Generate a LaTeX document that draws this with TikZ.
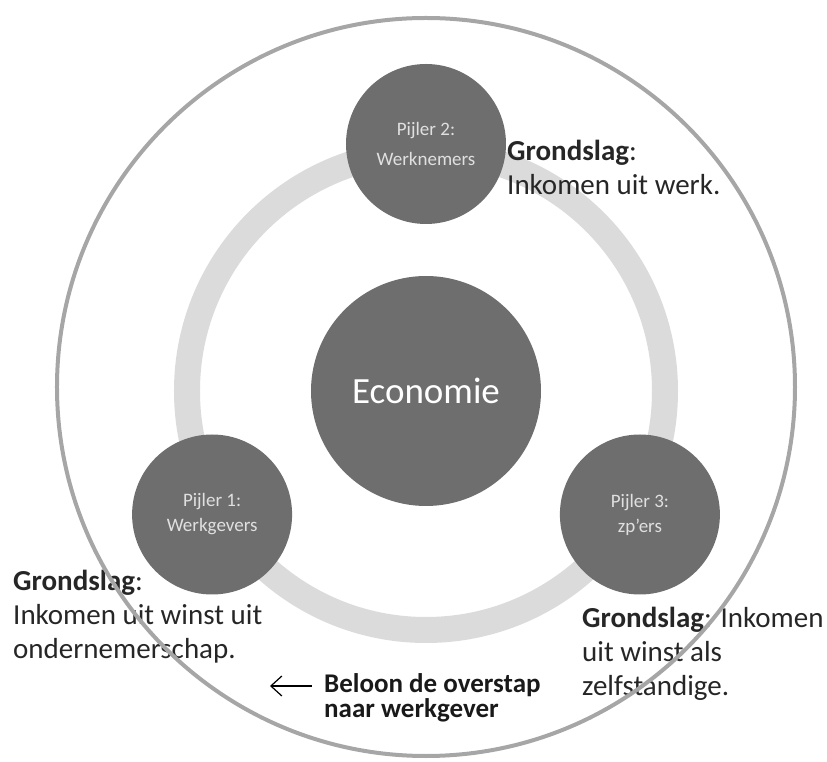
\documentclass[tikz,border=0pt]{standalone}
\usepackage{fontspec}
\setmainfont{Carlito}
\usetikzlibrary{arrows.meta}

\begin{document}
\begin{tikzpicture}[x=1pt,y=1pt,
  pijler/.style={circle,fill=black!57,minimum size=160pt,inner sep=0pt,align=center,
    text=black!12,font=\fontsize{19}{25}\selectfont},
  grondslag/.style={anchor=north west,inner sep=0pt,align=left,
    font=\fontsize{29}{34}\selectfont,text=black!85}]
\useasboundingbox (-426,391) rectangle (401,-371);

% ring en middelpunt
\coordinate (centre) at (0,0);
\draw[line width=26pt,black!14] (centre) circle (239);

\node[pijler,minimum size=230pt,font=\fontsize{37}{40}\selectfont,text=white] (economie) at (centre) {Economie};
\node[pijler] (pijler2) at (90:247) {Pijler 2:\\[5pt]Werknemers};
\node[pijler] (pijler1) at (210:247) {Pijler 1:\\Werkgevers};
\node[pijler] (pijler3) at (330:247) {Pijler 3:\\zp'ers};

% grondslagen
\node[grondslag] (werk) at (81,251) {\textbf{Grondslag}:\\Inkomen uit werk.};
\node[grondslag] (ondernemer) at (-413,-179) {\textbf{Grondslag}:\\Inkomen uit winst uit\\ondernemerschap.};
\node[grondslag] (zelfstandig) at (156,-216) {\textbf{Grondslag}: Inkomen\\uit winst als\\zelfstandige.};

\node[anchor=north west,inner sep=0pt,align=left,text=black!90,
  font=\bfseries\fontsize{27}{25}\selectfont] (beloon) at (-102,-282) {Beloon de overstap\\naar werkgever};
\coordinate (pijlpunt) at (-156,-295);
\draw[-{Straight Barb[length=11pt,width=20pt]},line width=1.2pt] ([shift={(-12,-13)}]beloon.north west) -- (pijlpunt);

% buitenste cirkel
\draw[black!35,line width=4pt] (0,4) circle (369);
\end{tikzpicture}
\end{document}
